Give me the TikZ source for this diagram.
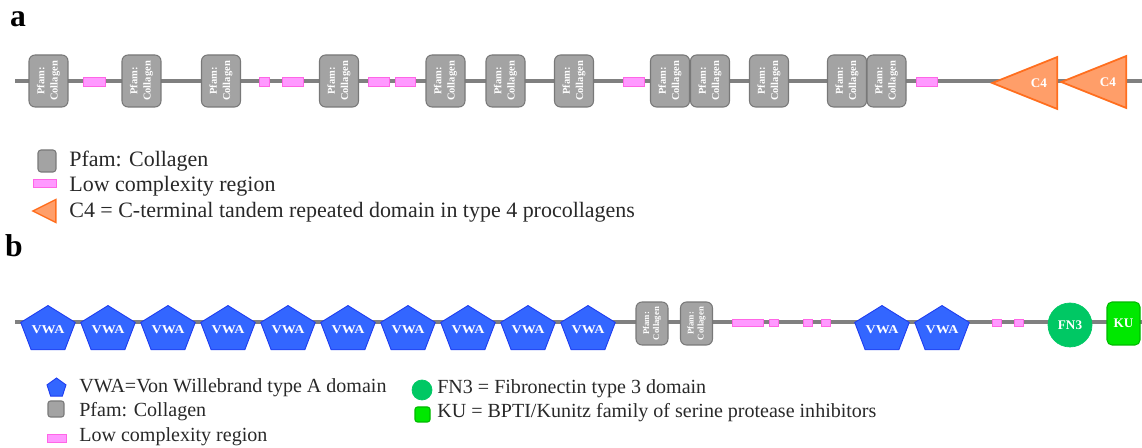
\documentclass[tikz,border=0pt]{standalone}
\usepackage{fontspec}
\setmainfont{Liberation Serif}
\usetikzlibrary{shapes}
\definecolor{bone}{RGB}{128, 128, 128}
\definecolor{pf_gray}{RGB}{163, 163, 163}
\definecolor{pf_edge}{RGB}{120, 120, 120}
\definecolor{lc_pink}{RGB}{255, 153, 255}
\definecolor{lc_edge}{RGB}{255, 102, 230}
\definecolor{c4_orange}{RGB}{255, 158, 105}
\definecolor{c4_edge}{RGB}{255, 110, 30}
\definecolor{vw_blue}{RGB}{51, 102, 255}
\definecolor{vw_edge}{RGB}{30, 60, 240}
\definecolor{fn_green}{RGB}{0, 200, 100}
\definecolor{ku_green}{RGB}{0, 232, 0}
\definecolor{ku_edge}{RGB}{0, 185, 0}
\definecolor{lg_text}{RGB}{40, 40, 40}
\tikzstyle{bb}=[draw=bone,line width=2.1pt]
\tikzstyle{pf}=[rectangle,rounded corners=0.12cm,fill=pf_gray,draw=pf_edge,
  line width=0.6pt,inner sep=0pt,rotate=90,text=white,align=center,
  font=\bfseries\fontsize{6}{7.6}\selectfont]
\tikzstyle{lc}=[rectangle,fill=lc_pink,draw=lc_edge,line width=0.5pt,
  inner sep=0pt,minimum height=0.18cm]
\tikzstyle{c4}=[isosceles triangle,isosceles triangle stretches,
  shape border rotate=180,fill=c4_orange,draw=c4_edge,line width=1pt,
  inner sep=0pt,text=white,font=\bfseries\fontsize{7.5}{8}\selectfont]
\tikzstyle{vw}=[regular polygon,regular polygon sides=5,minimum size=1.114cm,
  inner sep=0pt,yscale=0.853,transform shape,fill=vw_blue,draw=vw_edge,
  line width=0.5pt,text=white,font=\bfseries\fontsize{8}{8}\selectfont]
\tikzstyle{fn}=[circle,fill=fn_green,draw=fn_green,inner sep=0pt,
  minimum size=0.88cm,text=white,font=\bfseries\fontsize{7.5}{8}\selectfont]
\tikzstyle{ku}=[rectangle,rounded corners=0.1cm,fill=ku_green,draw=ku_edge,
  line width=0.6pt,inner sep=0pt,minimum width=0.66cm,minimum height=0.86cm,
  text=white,font=\bfseries\fontsize{7.5}{8}\selectfont]
\tikzstyle{lg}=[anchor=west,inner sep=0pt,text=lg_text,font=\fontsize{12.5}{14}\selectfont]
\tikzstyle{lgb}=[anchor=west,inner sep=0pt,text=lg_text,font=\fontsize{11.4}{13}\selectfont]

\begin{document}
\begin{tikzpicture}[x=0.02cm,y=0.02cm]
    \useasboundingbox (0,0) rectangle (1142,-448);
    % panel a
    \node [font=\bfseries\fontsize{18}{18}\selectfont] (alab) at (18,-19) {a};
    \coordinate (as) at (15,-81);
    \coordinate (ae) at (1142,-81);
    \draw [style=bb] (as) to (ae);
    \node [style=lc,minimum width=0.44cm] (1l) at (94,-81.5) {};
    \node [style=lc,minimum width=0.20cm] (2l) at (264,-81.5) {};
    \node [style=lc,minimum width=0.42cm] (3l) at (292.5,-81.5) {};
    \node [style=lc,minimum width=0.42cm] (4l) at (378.5,-81.5) {};
    \node [style=lc,minimum width=0.40cm] (5l) at (405,-81.5) {};
    \node [style=lc,minimum width=0.42cm] (6l) at (633.5,-81.5) {};
    \node [style=lc,minimum width=0.42cm] (7l) at (926.5,-81.5) {};
    \node [style=pf,minimum width=1.04cm,minimum height=0.78cm] (1p) at (48.5,-81) {Pfam:\\Collagen};
    \node [style=pf,minimum width=1.04cm,minimum height=0.78cm] (2p) at (141.5,-81) {Pfam:\\Collagen};
    \node [style=pf,minimum width=1.04cm,minimum height=0.78cm] (3p) at (221,-81) {Pfam:\\Collagen};
    \node [style=pf,minimum width=1.04cm,minimum height=0.78cm] (4p) at (339,-81) {Pfam:\\Collagen};
    \node [style=pf,minimum width=1.04cm,minimum height=0.78cm] (5p) at (445.5,-81) {Pfam:\\Collagen};
    \node [style=pf,minimum width=1.04cm,minimum height=0.78cm] (6p) at (505.5,-81) {Pfam:\\Collagen};
    \node [style=pf,minimum width=1.04cm,minimum height=0.78cm] (7p) at (574,-81) {Pfam:\\Collagen};
    \node [style=pf,minimum width=1.04cm,minimum height=0.78cm] (8p) at (670,-81) {Pfam:\\Collagen};
    \node [style=pf,minimum width=1.04cm,minimum height=0.78cm] (9p) at (710,-81) {Pfam:\\Collagen};
    \node [style=pf,minimum width=1.04cm,minimum height=0.78cm] (10p) at (769,-81) {Pfam:\\Collagen};
    \node [style=pf,minimum width=1.04cm,minimum height=0.78cm] (11p) at (847,-81) {Pfam:\\Collagen};
    \node [style=pf,minimum width=1.04cm,minimum height=0.78cm] (12p) at (886.5,-81) {Pfam:\\Collagen};
    \node [style=c4,minimum width=1.04cm,minimum height=1.3cm,anchor=apex] (1c) at (990,-83) {C4};
    \node [style=c4,minimum width=1.04cm,minimum height=1.3cm,anchor=apex] (2c) at (1059,-82) {C4};
    % legend a
    \node [style=pf,rotate=-90,rounded corners=0.06cm,minimum width=0.36cm,minimum height=0.44cm] (lp) at (47,-161) {};
    \node [style=lg] (lpt) at (69,-161) {Pfam: Collagen};
    \node [style=lc,minimum width=0.46cm,minimum height=0.16cm] (ll) at (44.5,-183) {};
    \node [style=lg] (llt) at (69,-186) {Low complexity region};
    \node [style=c4,line width=0.8pt,minimum width=0.46cm,minimum height=0.46cm,anchor=apex] (lc4) at (31,-211) {};
    \node [style=lg] (lct) at (69,-212) {C4 = C-terminal tandem repeated domain in type 4 procollagens};
    % panel b
    \node [font=\bfseries\fontsize{18}{18}\selectfont] (blab) at (14,-246) {b};
    \coordinate (bs) at (15,-322);
    \coordinate (be) at (1142,-322);
    \draw [style=bb] (bs) to (be);
    \node [style=vw] (1v) at (48,-330) {VWA};
    \node [style=vw] (2v) at (108,-330) {VWA};
    \node [style=vw] (3v) at (168,-330) {VWA};
    \node [style=vw] (4v) at (228,-330) {VWA};
    \node [style=vw] (5v) at (288,-330) {VWA};
    \node [style=vw] (6v) at (348,-330) {VWA};
    \node [style=vw] (7v) at (408,-330) {VWA};
    \node [style=vw] (8v) at (468,-330) {VWA};
    \node [style=vw] (9v) at (528,-330) {VWA};
    \node [style=vw] (10v) at (588,-330) {VWA};
    \node [style=pf,minimum width=0.86cm,minimum height=0.64cm,
      font=\bfseries\fontsize{5}{5.6}\selectfont] (13p) at (652,-323.5) {Pfam:\\Collagen};
    \node [style=pf,minimum width=0.86cm,minimum height=0.64cm,
      font=\bfseries\fontsize{5}{5.6}\selectfont] (14p) at (696.5,-323.5) {Pfam:\\Collagen};
    \node [style=lc,minimum height=0.14cm,minimum width=0.62cm] (8l) at (747.5,-322.5) {};
    \node [style=lc,minimum height=0.14cm,minimum width=0.18cm] (9l) at (773.5,-322.5) {};
    \node [style=lc,minimum height=0.14cm,minimum width=0.18cm] (10l) at (807.5,-322.5) {};
    \node [style=lc,minimum height=0.14cm,minimum width=0.17cm] (11l) at (826,-322.5) {};
    \node [style=vw] (11v) at (882,-330) {VWA};
    \node [style=vw] (12v) at (942,-330) {VWA};
    \node [style=lc,minimum height=0.14cm,minimum width=0.17cm] (12l) at (997,-322.5) {};
    \node [style=lc,minimum height=0.14cm,minimum width=0.18cm] (13l) at (1018.5,-322.5) {};
    \node [style=fn] (1f) at (1070,-325) {FN3};
    \node [style=ku] (1k) at (1123.5,-323.5) {KU};
    % legend b
    \node [style=vw,yscale=1.172,minimum size=0.4cm] (lv) at (56.5,-388) {};
    \node [style=lgb] (lvt) at (79,-388) {VWA=Von Willebrand type A domain};
    \node [style=pf,rotate=-90,rounded corners=0.05cm,minimum width=0.32cm,minimum height=0.32cm] (lp2) at (56,-409) {};
    \node [style=lgb] (lpt2) at (79,-412) {Pfam: Collagen};
    \node [style=lc,minimum width=0.38cm,minimum height=0.16cm] (ll2) at (56.5,-438) {};
    \node [style=lgb] (llt2) at (79,-437) {Low complexity region};
    \node [style=fn,minimum size=0.4cm] (lf) at (422,-390) {};
    \node [style=lgb] (lft) at (437,-389) {FN3 = Fibronectin type 3 domain};
    \node [style=ku,minimum width=0.3cm,minimum height=0.3cm,rounded corners=0.05cm] (lk) at (422.5,-414.5) {};
    \node [style=lgb] (lkt) at (437,-413) {KU = BPTI/Kunitz family of serine protease inhibitors};
\end{tikzpicture}
\end{document}
